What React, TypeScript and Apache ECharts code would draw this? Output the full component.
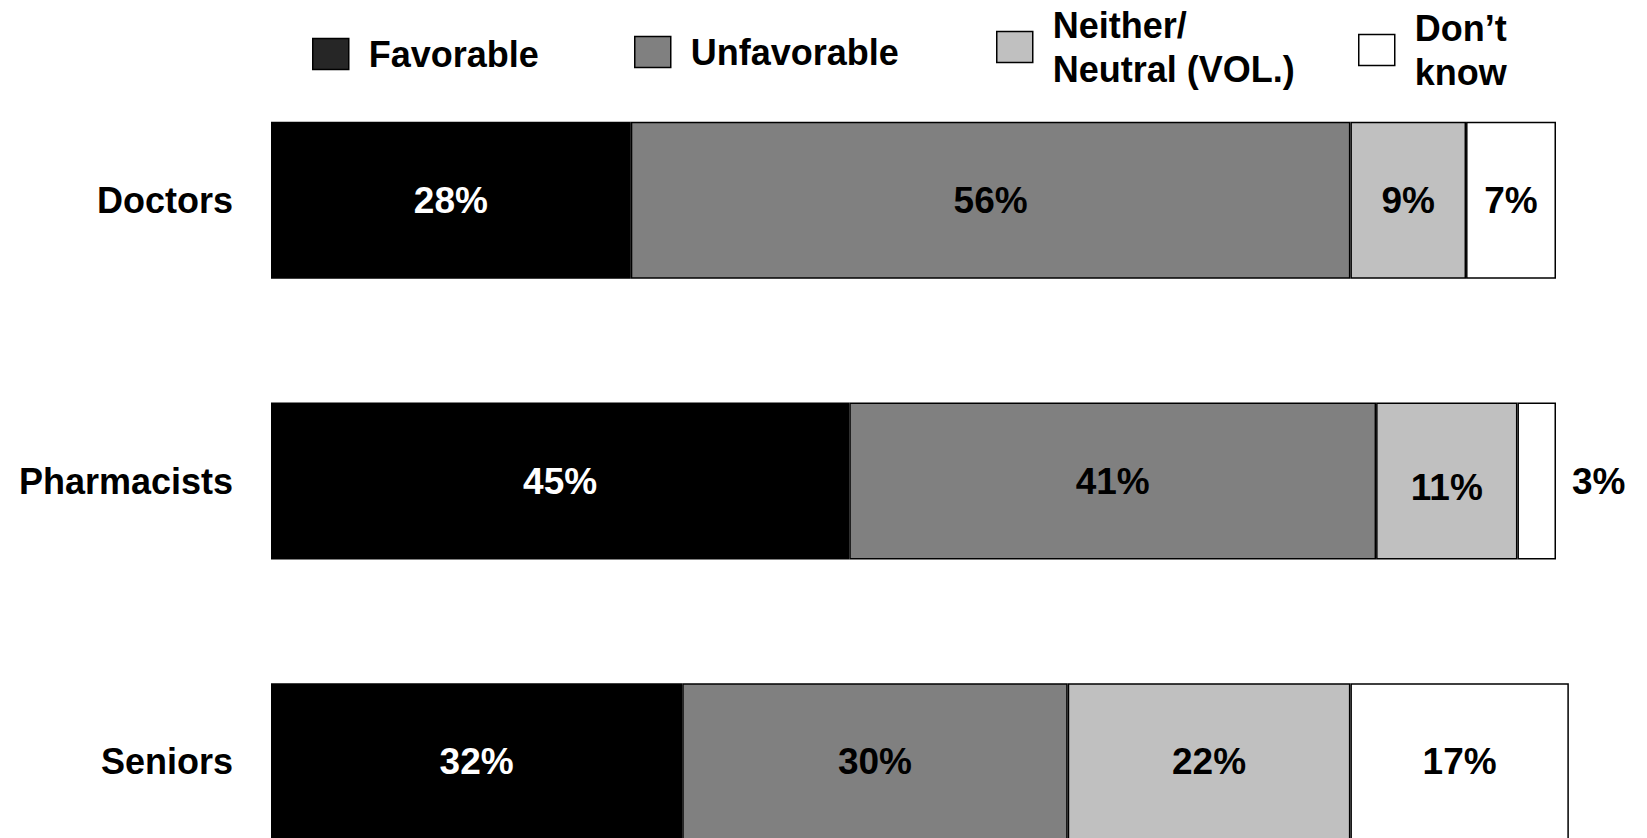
import React, { useEffect, useRef } from "react";
import * as echarts from "echarts";

const categories = ["Doctors", "Pharmacists", "Seniors"];
const seriesNames = ["Favorable", "Unfavorable", "Neither/\nNeutral (VOL.)", "Don\u2019t\nknow"];
const favorable = [28, 45, 32];
const unfavorable = [56, 41, 30];
const neither = [9, 11, 22];
const dontKnow = [7, 3, 17];

const FONT = "'Liberation Sans', Arial, Helvetica, sans-serif";
const barColors = ["#000000", "#808080", "#c0c0c0", "#ffffff"];
const legendColors = ["#262626", "#808080", "#c0c0c0", "#ffffff"];
const labelColors = ["#ffffff", "#000000", "#000000", "#000000"];
const legendPos = [
  { left: 312, top: 32 },
  { left: 634, top: 30 },
  { left: 996, top: 3 },
  { left: 1358, top: 6 },
];

export default function App() {
  const ref = useRef<HTMLDivElement>(null);
  useEffect(() => {
    if (!ref.current) return;
    const chart = echarts.init(ref.current, null, { renderer: "svg" });
    const values = [favorable, unfavorable, neither, dontKnow];
    const series = seriesNames.map((name, si) => ({
      name,
      type: "bar",
      stack: "total",
      barWidth: 157,
      clip: false,
      itemStyle: { color: barColors[si], borderColor: "#000", borderWidth: 1.5 },
      label: {
        show: true,
        position: "inside",
        formatter: "{c}%",
        color: labelColors[si],
        fontFamily: FONT,
        fontWeight: "bold",
        fontSize: 37,
      },
      data: values[si].map((v, ci) => {
        if (si === 3 && ci === 1) {
          return { value: v, label: { position: "right", distance: 16 } };
        }
        if (si === 2 && ci === 1) {
          return { value: v, label: { offset: [0, 6] } };
        }
        return v;
      }),
    }));
    const legends = seriesNames.map((name, i) => ({
      data: [
        {
          name,
          itemStyle: { color: legendColors[i], borderColor: "#000", borderWidth: 1.5 },
        },
      ],
      left: legendPos[i].left,
      top: legendPos[i].top,
      orient: "horizontal",
      icon: "rect",
      itemWidth: 36,
      itemHeight: 31,
      selectedMode: false,
      padding: 0,
      textStyle: {
        fontFamily: FONT,
        fontWeight: "bold",
        fontSize: 36,
        lineHeight: 44,
        color: "#000",
        padding: [0, 0, 0, 15],
      },
    }));
    chart.setOption({
      animation: false,
      backgroundColor: "#ffffff",
      legend: legends,
      grid: { left: 271, top: 60, width: 1413.5, height: 842 },
      xAxis: {
        type: "value",
        min: 0,
        max: 110,
        show: false,
      },
      yAxis: {
        type: "category",
        inverse: true,
        data: categories,
        axisLine: { show: false },
        axisTick: { show: false },
        axisLabel: {
          margin: 38,
          fontFamily: FONT,
          fontWeight: "bold",
          fontSize: 36,
          color: "#000",
        },
      },
      series,
    });
    return () => chart.dispose();
  }, []);
  return (
    <div
      style={{
        position: "absolute",
        left: 0,
        top: 0,
        width: 1647,
        height: 838,
        overflow: "hidden",
        background: "#fff",
      }}
    >
      <div ref={ref} style={{ width: 1700, height: 920 }} />
    </div>
  );
}
